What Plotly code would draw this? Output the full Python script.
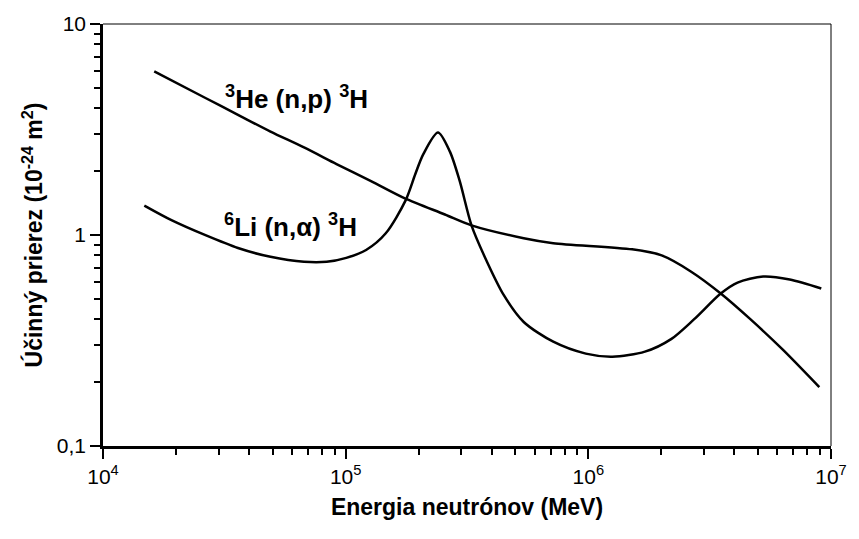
import plotly.graph_objects as go

# He-3 (n,p) H-3
he_E = [16260, 26440, 35990, 49000, 67330, 91670, 127200, 176400, 256400, 330000,
        541600, 716900, 1.515e6, 2.005e6, 2.654e6, 3.513e6, 4.651e6, 6.33e6, 8.95e6]
he_s = [5.96, 4.46, 3.71, 3.09, 2.60, 2.17, 1.80, 1.486, 1.251, 1.111,
        0.966, 0.915, 0.855, 0.800, 0.670, 0.528, 0.399, 0.286, 0.190]

# Li-6 (n,alpha) H-3
li_E = [14800, 19240, 26440, 35990, 49000, 67330, 83500, 100600, 121400, 146300,
        176400, 193700, 208700, 240100, 268600, 295000, 330000, 372700, 449200, 541600,
        716900, 976000, 1.256e6, 1.711e6, 2.201e6, 2.730e6, 3.513e6, 4.12e6, 5.25e6,
        6.76e6, 9.12e6]
li_s = [1.379, 1.173, 0.998, 0.868, 0.788, 0.746, 0.746, 0.779, 0.849, 1.019,
        1.455, 1.946, 2.41, 3.06, 2.49, 1.804, 1.111, 0.796, 0.517, 0.387,
        0.312, 0.274, 0.265, 0.280, 0.322, 0.399, 0.528, 0.595, 0.635,
        0.615, 0.558]

x_tickvals = [1e4, 1e5, 1e6, 1e7]
x_ticktext = ["10<sup>4</sup>", "10<sup>5</sup>", "10<sup>6</sup>", "10<sup>7</sup>"]
y_tickvals = [0.1, 1, 10]
y_ticktext = ["0,1", "1", "10"]

x_minor = [m * 10 ** d for d in (4, 5, 6) for m in range(2, 10)]
y_minor = [m * 10 ** d for d in (-1, 0) for m in range(2, 10)]

font_family = "Liberation Sans, Arial, sans-serif"

fig = go.Figure()
for xs, ys in ((he_E, he_s), (li_E, li_s)):
    fig.add_trace(go.Scatter(x=xs, y=ys, mode="lines",
                             line=dict(color="black", width=2.5, shape="spline", smoothing=0.8)))

axis_common = dict(showgrid=False, zeroline=False, showline=True, linecolor="black",
                   linewidth=2.5, ticks="outside", ticklen=10, tickwidth=2, tickcolor="black",
                   tickfont=dict(size=21, color="black", family=font_family))

fig.update_xaxes(type="log", range=[4, 7], tickvals=x_tickvals, ticktext=x_ticktext,
                 minor=dict(tickvals=x_minor, ticks="outside", ticklen=6, tickwidth=2,
                            tickcolor="black", showgrid=False),
                 title=dict(text="<b>Energia neutrónov (MeV)</b>",
                            font=dict(size=23, color="black", family=font_family), standoff=12),
                 **axis_common)
fig.update_yaxes(type="log", range=[-1, 1], tickvals=y_tickvals, ticktext=y_ticktext,
                 minor=dict(tickvals=y_minor, ticks="outside", ticklen=6, tickwidth=2,
                            tickcolor="black", showgrid=False),
                 title=dict(text="<b>Účinný prierez (10<sup>-24</sup> m<sup>2</sup>)</b>",
                            font=dict(size=23, color="black", family=font_family), standoff=8),
                 **axis_common)

# thin top and right border
fig.add_shape(type="line", xref="paper", yref="paper", x0=0, x1=1, y0=1, y1=1,
              line=dict(color="black", width=1))
fig.add_shape(type="line", xref="paper", yref="paper", x0=1, x1=1, y0=0, y1=1,
              line=dict(color="black", width=1))

fig.add_annotation(xref="paper", yref="paper", x=0.165, y=0.825, xanchor="left", yanchor="middle",
                   text="<b><sup>3</sup>He (n,p) <sup>3</sup>H</b>", showarrow=False,
                   font=dict(size=26, color="black", family=font_family))
fig.add_annotation(xref="paper", yref="paper", x=0.163, y=0.523, xanchor="left", yanchor="middle",
                   text="<b><sup>6</sup>Li (n,α) <sup>3</sup>H</b>", showarrow=False,
                   font=dict(size=26, color="black", family=font_family))

fig.update_layout(width=859, height=539, showlegend=False,
                  margin=dict(l=103, r=17, t=18, b=93),
                  plot_bgcolor="white", paper_bgcolor="white",
                  font=dict(family=font_family, color="black"))

fig.write_html("out.html")
